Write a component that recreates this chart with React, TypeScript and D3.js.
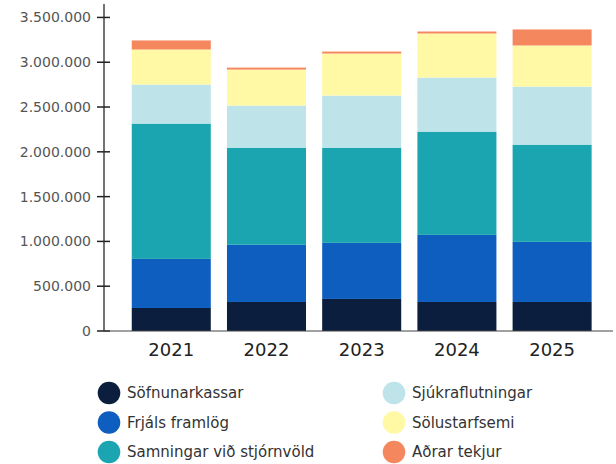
import React from "react";
import * as d3 from "d3";

const years = ["2021", "2022", "2023", "2024", "2025"];
const seriesNames = [
  "Söfnunarkassar",
  "Frjáls framlög",
  "Samningar við stjórnvöld",
  "Sjúkraflutningar",
  "Sölustarfsemi",
  "Aðrar tekjur",
];
const sofnunarkassar = [257000, 324000, 358000, 324000, 324000];
const frjalsFramlog = [548000, 638000, 626000, 749000, 671000];
const samningar = [1510000, 1084000, 1062000, 1152000, 1085000];
const sjukraflutningar = [436000, 470000, 582000, 604000, 648000];
const solustarfsemi = [391000, 402000, 469000, 492000, 459000];
const adrarTekjur = [101000, 22000, 22000, 22000, 179000];
const yTicks = [0, 500000, 1000000, 1500000, 2000000, 2500000, 3000000, 3500000];
const colors = ["#0b1e3d", "#0e5ebf", "#1ba5b0", "#bee3e8", "#fff8a5", "#f5875f"];

const seriesValues = [sofnunarkassar, frjalsFramlog, samningar, sjukraflutningar, solustarfsemi, adrarTekjur];

const FONT = "'DejaVu Sans', sans-serif";

export default function App() {
  const rows = years.map((y, i) => {
    const r: any = { year: y };
    seriesNames.forEach((n, k) => (r[n] = seriesValues[k][i]));
    return r;
  });
  const stacked = d3.stack().keys(seriesNames)(rows);

  const x = d3
    .scaleBand<string>()
    .domain(years)
    .range([104, 613])
    .paddingInner(0.17)
    .paddingOuter(0.258)
    .align(0.565);
  const y = d3.scaleLinear().domain([0, 3650000]).range([331, 4]);
  const fmt = (v: number) => d3.format(",")(v).replace(/,/g, ".");

  const legendPos = seriesNames.map((n, i) => ({
    name: n,
    color: colors[i],
    cx: i < 3 ? 109 : 394,
    cy: 393 + (i % 3) * 29.5,
  }));

  return (
    <svg
      width={616}
      height={464}
      style={{ position: "absolute", left: 0, top: 0, background: "#fff" }}
      fontFamily={FONT}
    >
      {stacked.map((s, k) => (
        <g key={s.key} fill={colors[k]}>
          {s.map((d, i) => (
            <rect
              key={i}
              x={x(years[i])}
              width={x.bandwidth()}
              y={y(d[1])}
              height={y(d[0]) - y(d[1])}
            />
          ))}
        </g>
      ))}
      {/* y axis */}
      <line x1={104} x2={104} y1={y.range()[1]} y2={y.range()[0]} stroke="#444" strokeWidth={1.5} />
      {yTicks.map((t) => (
        <g key={t} transform={`translate(104,${y(t)})`}>
          <line x1={-7} x2={6} stroke="#222" strokeWidth={1.5} />
          <text x={-13} dy="0.35em" textAnchor="end" fontSize={14} fill="#555">
            {fmt(t)}
          </text>
        </g>
      ))}
      {/* x axis */}
      <line x1={104} x2={613} y1={y(0)} y2={y(0)} stroke="#444" strokeWidth={1.2} />
      {years.map((yr) => (
        <text
          key={yr}
          x={(x(yr) as number) + x.bandwidth() / 2}
          y={356}
          textAnchor="middle"
          fontSize={18}
          fill="#222"
        >
          {yr}
        </text>
      ))}
      {/* legend */}
      {legendPos.map((l) => (
        <g key={l.name}>
          <circle cx={l.cx} cy={l.cy} r={11.3} fill={l.color} />
          <text x={l.cx + 18} y={l.cy} dy="0.35em" fontSize={15} fill="#333">
            {l.name}
          </text>
        </g>
      ))}
    </svg>
  );
}
